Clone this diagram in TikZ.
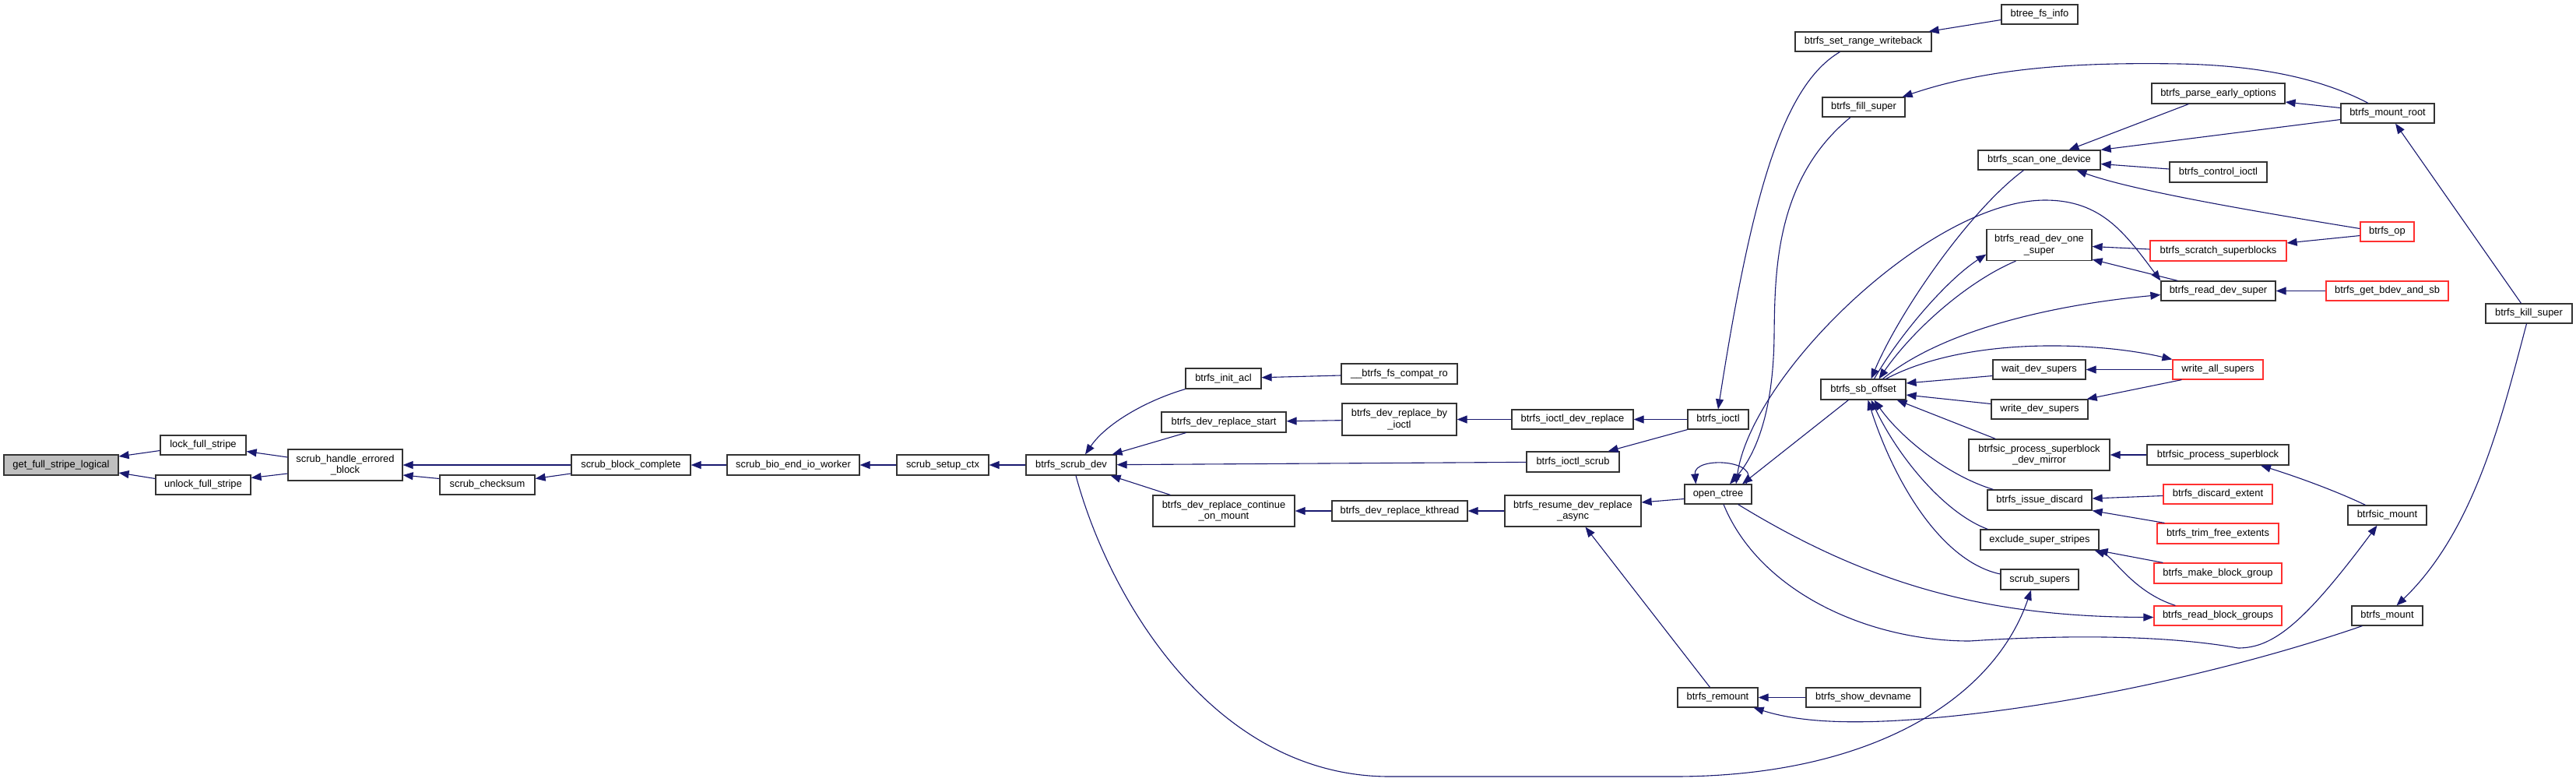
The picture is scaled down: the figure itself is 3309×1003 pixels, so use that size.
\documentclass[tikz,border=0pt]{standalone}
\usepackage{fontspec}
\setmainfont{Liberation Sans}
\usetikzlibrary{arrows.meta,calc}
\definecolor{edgeblue}{HTML}{191970}
\definecolor{rootgray}{HTML}{BFBFBF}
\definecolor{boxred}{HTML}{FF3030}
\tikzset{
  fn/.style={draw=black!80, line width=0.6pt, fill=white, rectangle, inner sep=0pt, align=center,
    font=\fontsize{6.45pt}{7.35pt}\selectfont},
  redfn/.style={fn, draw=boxred},
  rootfn/.style={fn, fill=rootgray},
  box/.style 2 args={minimum width=#1*0.5pt, minimum height=#2*0.5pt},
  edgeline/.style={draw=edgeblue, line width=0.55pt},
  call/.style={edgeline, {Triangle[length=6.5pt,width=5pt]}-},
  bothcall/.style={edgeline, {Triangle[length=6.5pt,width=5pt]}-{Triangle[length=6.5pt,width=5pt]}},
}
\begin{document}
\begin{tikzpicture}[x=0.5pt,y=-0.5pt]
\fill[white] (0,0) rectangle (3309,1003);
\useasboundingbox (0,0) rectangle (3309,1003);

% ---------- nodes ----------
\node[rootfn, box={147}{26}] (gfsl) at (78.5,597) {get\_full\_stripe\_logical};
\node[fn, box={110}{25}] (lock) at (261,571.5) {lock\_full\_stripe};
\node[fn, box={122}{25}] (unlock) at (261,622.5) {unlock\_full\_stripe};
\node[fn, box={147}{40}] (sheb) at (443.5,597) {scrub\_handle\_errored\\\_block};
\node[fn, box={122}{25}] (sc) at (626,622.5) {scrub\_checksum};
\node[fn, box={153}{26}] (sbc) at (810.5,597) {scrub\_block\_complete};
\node[fn, box={170}{26}] (sbeiw) at (1019,597) {scrub\_bio\_end\_io\_worker};
\node[fn, box={118}{26}] (ssc) at (1211,597) {scrub\_setup\_ctx};
\node[fn, box={116}{26}] (sd) at (1376,597) {btrfs\_scrub\_dev};
\node[fn, box={97}{26}] (acl) at (1571.5,486) {btrfs\_init\_acl};
\node[fn, box={149}{26}] (compat) at (1797.5,480) {\_\_btrfs\_fs\_compat\_ro};
\node[fn, box={160}{26}] (drs) at (1572,542) {btrfs\_dev\_replace\_start};
\node[fn, box={147}{41}] (byioctl) at (1797.5,538.5) {btrfs\_dev\_replace\_by\\\_ioctl};
\node[fn, box={156}{25}] (iodr) at (2020,538.5) {btrfs\_ioctl\_dev\_replace};
\node[fn, box={119}{26}] (ioscrub) at (2020.5,593) {btrfs\_ioctl\_scrub};
\node[fn, box={182}{40}] (com) at (1572,656) {btrfs\_dev\_replace\_continue\\\_on\_mount};
\node[fn, box={174}{26}] (kthr) at (1798,656) {btrfs\_dev\_replace\_kthread};
\node[fn, box={175}{40}] (resume) at (2020.5,656) {btrfs\_resume\_dev\_replace\\\_async};
\node[fn, box={78}{25}] (bioctl) at (2207,538.5) {btrfs\_ioctl};
\node[fn, box={86}{25}] (oc) at (2207,634.5) {open\_ctree};
\node[fn, box={103}{25}] (remount) at (2206.5,895.5) {btrfs\_remount};
\node[fn, box={175}{25}] (srw) at (2393.5,53.5) {btrfs\_set\_range\_writeback};
\node[fn, box={106}{25}] (fs) at (2394,137.5) {btrfs\_fill\_super};
\node[fn, box={109}{26}] (sbo) at (2393.5,500) {btrfs\_sb\_offset};
\node[fn, box={147}{25}] (showdev) at (2393.5,895.5) {btrfs\_show\_devname};
\node[fn, box={98}{25}] (bfi) at (2620,18.5) {btree\_fs\_info};
\node[fn, box={157}{25}] (sod) at (2619.5,205.5) {btrfs\_scan\_one\_device};
\node[fn, box={135}{40}] (rdos) at (2619.5,314.5) {btrfs\_read\_dev\_one\\\_super};
\node[fn, box={119}{25}] (wds) at (2619.5,474.5) {wait\_dev\_supers};
\node[fn, box={124}{25}] (wrds) at (2620,525.5) {write\_dev\_supers};
\node[fn, box={181}{40}] (dm) at (2619.5,584) {btrfsic\_process\_superblock\\\_dev\_mirror};
\node[fn, box={134}{26}] (isd) at (2620,642) {btrfs\_issue\_discard};
\node[fn, box={152}{26}] (ess) at (2620,693) {exclude\_super\_stripes};
\node[fn, box={100}{26}] (ss) at (2620,744) {scrub\_supers};
\node[fn, box={171}{26}] (peo) at (2849.5,120) {btrfs\_parse\_early\_options};
\node[fn, box={125}{26}] (ci) at (2849.5,221) {btrfs\_control\_ioctl};
\node[redfn, box={175}{26}] (scr) at (2849.5,322) {btrfs\_scratch\_superblocks};
\node[fn, box={147}{25}] (rds) at (2849.5,373.5) {btrfs\_read\_dev\_super};
\node[redfn, box={116}{25}] (was) at (2849,474.5) {write\_all\_supers};
\node[fn, box={182}{26}] (bps) at (2849,584) {btrfsic\_process\_superblock};
\node[redfn, box={140}{25}] (de) at (2849,634.5) {btrfs\_discard\_extent};
\node[redfn, box={156}{26}] (tfe) at (2849,685) {btrfs\_trim\_free\_extents};
\node[redfn, box={164}{26}] (mbg) at (2849,736) {btrfs\_make\_block\_group};
\node[redfn, box={164}{25}] (rbg) at (2849,790.5) {btrfs\_read\_block\_groups};
\node[fn, box={120}{25}] (mr) at (3067,145.5) {btrfs\_mount\_root};
\node[redfn, box={69}{25}] (op) at (3066.5,297.5) {btrfs\_op};
\node[redfn, box={157}{25}] (gbs) at (3066.5,373.5) {btrfs\_get\_bdev\_and\_sb};
\node[fn, box={101}{25}] (bm) at (3066.5,661.5) {btrfsic\_mount};
\node[fn, box={91}{25}] (mnt) at (3066.5,790.5) {btrfs\_mount};
\node[fn, box={111}{25}] (ks) at (3248.5,402.5) {btrfs\_kill\_super};

% ---------- edges (arrow at the callee) ----------
\draw[call] ($(gfsl.east)+(0,-11)$) -- ($(lock.west)+(0,7)$);
\draw[call] ($(gfsl.east)+(0,10)$) -- ($(unlock.west)+(0,-8)$);
\draw[call] ($(lock.east)+(0,8)$) -- ($(sheb.west)+(0,-10)$);
\draw[call] ($(unlock.east)+(0,-9)$) -- ($(sheb.west)+(0,11)$);
\draw[call] (sheb) -- (sbc);
\draw[call] ($(sheb.east)+(0,13)$) -- ($(sc.west)+(0,-8)$);
\draw[call] ($(sc.east)+(0,-8)$) -- ($(sbc.west)+(0,11)$);
\draw[call] (sbc) -- (sbeiw);
\draw[call] (sbeiw) -- (ssc);
\draw[call] (ssc) -- (sd);

\draw[call] ($(sd.north)+(18,0)$) .. controls (1420,545) and (1470,515) .. (acl.south west);
\draw[call] ($(sd.north east)+(-6,0)$) -- ($(drs.south west)+(32,0)$);
\draw[call] (sd) -- (ioscrub);
\draw[call] ($(sd.south east)+(-8,0)$) -- ($(com.north west)+(23,0)$);
\draw[call] ($(ss.south)+(-11,0)$) .. controls (2560,900) and (2400,997) .. (2150,997) -- (1785,997) .. controls (1560,997) and (1425,770) .. ($(sd.south)+(6,0)$);

\draw[call] (acl) -- (compat);
\draw[call] (drs) -- (byioctl);
\draw[call] (byioctl) -- (iodr);
\draw[call] (iodr) -- (bioctl);
\draw[call] ($(ioscrub.north east)+(-15,0)$) -- (bioctl.south west);
\draw[call] (com) -- (kthr);
\draw[call] (kthr) -- (resume);
\draw[call] ($(resume.east)+(0,-11)$) -- ($(oc.west)+(0,6)$);
\draw[call] ($(resume.south)+(16,0)$) -- ($(remount.north)+(-10,0)$);
\draw[call] (remount) -- (showdev);

\draw[call] (bioctl.north) .. controls (2250,250) and (2290,110) .. ($(srw.south)+(-30,0)$);
\draw[call] ($(srw.north east)+(-4,0)$) -- ($(bfi.west)+(0,7)$);
\draw[call] ($(oc.north)+(15,0)$) .. controls (2250,590) and (2278,540) .. (2279,430) .. controls (2280,350) and (2280,230) .. ($(fs.south)+(-17,0)$);
\draw[bothcall] ($(oc.north)+(23,0)$) .. controls (2250,480) and (2480,257) .. (2627,257) .. controls (2700,257) and (2730,300) .. (rds.north west);
\draw[call] ($(oc.north)+(31,0)$) -- ($(sbo.south west)+(36,0)$);
\draw[call] ($(oc.north west)+(15,0)$) .. controls (2175,585) and (2265,590) .. ($(oc.north east)+(-8,0)$);
\draw[call] ($(rbg.west)+(0,2)$) .. controls (2550,792) and (2400,750) .. ($(oc.south east)+(-18,0)$);
\draw[call] ($(bm.south)+(-13,0)$) .. controls (2960,800) and (2920,832) .. (2875,832) .. controls (2780,815) and (2650,815) .. (2530,823) .. controls (2400,823) and (2260,760) .. ($(oc.south)+(7,0)$);

\draw[call] ($(remount.south east)+(-6,0)$) .. controls (2320,930) and (2400,930) .. (2502,920) .. controls (2700,900) and (2900,850) .. ($(mnt.south west)+(14,0)$);
\draw[call] ($(mnt.north)+(12,0)$) .. controls (3180,680) and (3215,530) .. ($(ks.south)+(-3,0)$);
\draw[call] ($(mr.south)+(10,0)$) -- ($(ks.north)+(-10,0)$);
\draw[call] ($(fs.north east)+(-4,0)$) .. controls (2560,85) and (2680,80) .. (2800,82) .. controls (2900,84) and (2980,100) .. ($(mr.north)+(-25,0)$);
\draw[call] ($(peo.east)+(0,11)$) -- ($(mr.west)+(0,-7)$);
\draw[call] (sod.north east) -- ($(mr.west)+(0,8)$);
\draw[call] ($(sod.north)+(38,0)$) -- ($(peo.south west)+(48,0)$);
\draw[call] ($(sod.east)+(0,5)$) -- ($(ci.west)+(0,-4)$);
\draw[call] ($(sod.south)+(48,0)$) .. controls (2740,245) and (2900,272) .. ($(op.west)+(0,-4)$);
\draw[call] ($(scr.east)+(0,-10)$) -- ($(op.west)+(0,5)$);
\draw[call] (rds) -- (gbs);
\draw[call] ($(rdos.east)+(0,2)$) -- ($(scr.west)+(0,-2)$);
\draw[call] ($(rdos.south east)+(0,-2)$) -- ($(rds.north west)+(22,0)$);

\draw[call] ($(sbo.north)+(10,0)$) .. controls (2440,400) and (2530,270) .. ($(sod.south)+(-20,0)$);
\draw[call] ($(rdos.west)+(0,12)$) .. controls (2500,360) and (2440,430) .. ($(sbo.north)+(14,0)$);
\draw[call] ($(sbo.north)+(20,0)$) .. controls (2460,420) and (2530,360) .. ($(rdos.south)+(-30,0)$);
\draw[call] ($(rds.west)+(0,5)$) .. controls (2650,390) and (2500,420) .. ($(sbo.north)+(25,0)$);
\draw[call] (was.north west) .. controls (2700,440) and (2530,430) .. ($(sbo.north)+(29,0)$);
\draw[call] ($(sbo.east)+(0,-8)$) -- ($(wds.west)+(0,8)$);
\draw[call] (wds) -- (was);
\draw[call] ($(sbo.east)+(0,7)$) -- ($(wrds.west)+(0,-7)$);
\draw[call] ($(wrds.north east)+(-2,0)$) -- ($(was.south west)+(12,0)$);
\draw[call] ($(sbo.south east)+(-12,0)$) -- ($(dm.north west)+(35,0)$);
\draw[call] (dm) -- (bps);
\draw[call] ($(bps.south)+(55,0)$) .. controls (2950,612) and (3000,630) .. ($(bm.north)+(-28,0)$);
\draw[call] ($(sbo.south)+(14,0)$) .. controls (2440,560) and (2500,610) .. ($(isd.north west)+(8,0)$);
\draw[call] ($(isd.east)+(0,-2)$) -- ($(de.west)+(0,2)$);
\draw[call] (isd.south east) -- ($(tfe.north west)+(10,0)$);
\draw[call] ($(sbo.south)+(10,0)$) .. controls (2440,590) and (2500,660) .. ($(ess.north west)+(10,0)$);
\draw[call] ($(ess.south east)+(-2,0)$) -- ($(mbg.north west)+(12,0)$);
\draw[call] ($(ess.south east)+(-6,0)$) .. controls (2715,715) and (2740,760) .. ($(rbg.north west)+(28,0)$);
\draw[call] ($(sbo.south)+(6,0)$) .. controls (2430,610) and (2490,720) .. ($(ss.west)+(0,-7)$);
\end{tikzpicture}
\end{document}
